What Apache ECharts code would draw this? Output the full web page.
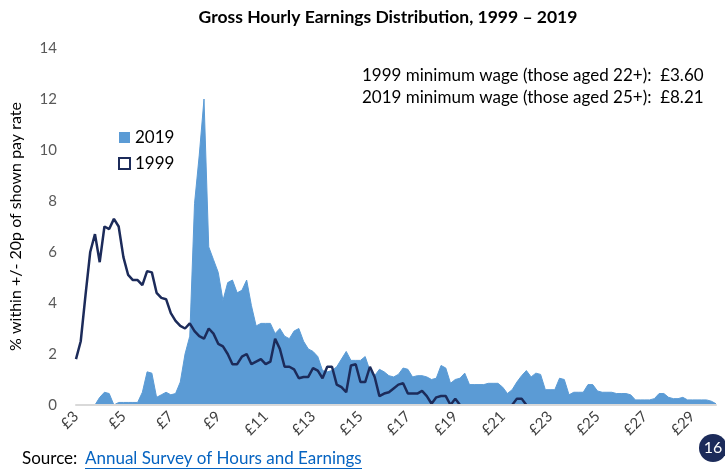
<!DOCTYPE html>
<html>
<head>
<meta charset="utf-8">
<script src="https://cdn.jsdelivr.net/npm/echarts@6/dist/echarts.min.js"></script>
<style>
  html, body { margin: 0; padding: 0; background: #fff; }
  #chart { width: 725px; height: 471px; }
</style>
</head>
<body>
<div id="chart"></div>
<script>
// pay rates, 20p steps
var payRates = [
  '3.0','3.2','3.4','3.6','3.8','4.0','4.2','4.4','4.6','4.8',
  '5.0','5.2','5.4','5.6','5.8','6.0','6.2','6.4','6.6','6.8',
  '7.0','7.2','7.4','7.6','7.8','8.0','8.2','8.4','8.6','8.8',
  '9.0','9.2','9.4','9.6','9.8','10.0','10.2','10.4','10.6','10.8',
  '11.0','11.2','11.4','11.6','11.8','12.0','12.2','12.4','12.6','12.8',
  '13.0','13.2','13.4','13.6','13.8','14.0','14.2','14.4','14.6','14.8',
  '15.0','15.2','15.4','15.6','15.8','16.0','16.2','16.4','16.6','16.8',
  '17.0','17.2','17.4','17.6','17.8','18.0','18.2','18.4','18.6','18.8',
  '19.0','19.2','19.4','19.6','19.8','20.0','20.2','20.4','20.6','20.8',
  '21.0','21.2','21.4','21.6','21.8','22.0','22.2','22.4','22.6','22.8',
  '23.0','23.2','23.4','23.6','23.8','24.0','24.2','24.4','24.6','24.8',
  '25.0','25.2','25.4','25.6','25.8','26.0','26.2','26.4','26.6','26.8',
  '27.0','27.2','27.4','27.6','27.8','28.0','28.2','28.4','28.6','28.8',
  '29.0','29.2','29.4','29.6','29.8','30.0'
];

var share2019 = [
  0, 0, 0, 0, 0, 0.3, 0.5, 0.45, 0, 0.1,
  0.1, 0.1, 0.1, 0.1, 0.5, 1.3, 1.25, 0.3, 0.4, 0.5,
  0.4, 0.45, 0.9, 2.0, 2.7, 7.9, 9.8, 12.0, 6.2, 5.7,
  5.2, 4.1, 4.8, 4.9, 4.4, 4.5, 4.9, 3.9, 3.1, 3.2,
  3.2, 3.2, 2.8, 3.0, 2.7, 2.6, 2.9, 3.0, 2.5, 2.2,
  2.1, 1.9, 1.35, 1.3, 1.35, 1.5, 1.8, 2.1, 1.75, 1.75,
  1.75, 1.9, 1.35, 1.15, 1.4, 1.3, 1.15, 1.1, 1.2, 1.45,
  1.4, 1.1, 1.15, 1.15, 1.1, 1.0, 1.05, 1.55, 1.45, 0.85,
  1.0, 1.05, 1.25, 0.8, 0.8, 0.8, 0.8, 0.85, 0.85, 0.85,
  0.7, 0.45, 0.6, 0.9, 1.15, 1.35, 1.1, 1.25, 1.2, 0.6,
  0.6, 0.6, 1.05, 1.0, 0.4, 0.5, 0.5, 0.5, 0.8, 0.8,
  0.55, 0.5, 0.5, 0.5, 0.45, 0.45, 0.45, 0.4, 0.2, 0.2,
  0.2, 0.2, 0.25, 0.45, 0.45, 0.3, 0.25, 0.25, 0.3, 0.2,
  0.2, 0.2, 0.2, 0.2, 0.15, 0.05
];

var share1999 = [
  1.8, 2.5, 4.3, 6.0, 6.7, 5.6, 7.0, 6.9, 7.3, 7.0,
  5.8, 5.1, 4.9, 4.9, 4.7, 5.25, 5.2, 4.4, 4.2, 4.15,
  3.6, 3.3, 3.1, 3.0, 3.2, 2.9, 2.7, 2.6, 3.0, 2.8,
  2.4, 2.3, 2.0, 1.6, 1.6, 1.9, 2.0, 1.6, 1.7, 1.8,
  1.6, 1.7, 2.6, 2.2, 1.5, 1.5, 1.4, 1.05, 1.1, 1.1,
  1.45, 1.35, 1.05, 1.5, 1.5, 0.8, 0.7, 0.5, 1.55, 1.6,
  0.9, 0.9, 1.5, 1.1, 0.35, 0.45, 0.5, 0.65, 0.8, 0.85,
  0.45, 0.45, 0.45, 0.55, 0.35, 0.05, 0.3, 0.35, 0.35, 0,
  0.25, 0, null, null, null, null, null, null, null, null,
  null, null, 0, 0.25, 0.25, 0, null, null, null, null,
  null, null, null, null, null, null, null, null, null, null,
  null, null, null, null, null, null, null, null, null, null,
  null, null, null, null, null, null, null, null, null, null,
  null, null, null, null, null, null
];

var FONT = 'Lato, "Open Sans", sans-serif';
var BLUE = '#5b9bd5';
var NAVY = '#1c2b5a';

var chart = echarts.init(document.getElementById('chart'), null, { renderer: 'canvas' });

chart.setOption({
  animation: false,
  backgroundColor: '#fff',
  textStyle: { fontFamily: FONT },
  title: {
    text: 'Gross Hourly Earnings Distribution, 1999 – 2019',
    left: 383,
    textAlign: 'center',
    top: 3,
    textStyle: { fontFamily: FONT, fontSize: 17.5, fontWeight: 'bold', color: '#000' }
  },
  legend: {
    orient: 'vertical',
    left: 118,
    top: 129,
    padding: 0,
    itemWidth: 11,
    itemHeight: 11,
    itemGap: 9,
    textStyle: { fontFamily: FONT, fontSize: 17, color: '#000' },
    data: [
      { name: '2019', icon: 'rect', itemStyle: { color: BLUE } },
      { name: '1999', icon: 'rect', itemStyle: { color: '#fff', borderColor: NAVY, borderWidth: 2 } }
    ]
  },
  grid: { left: 72, right: 9, top: 48, bottom: 66, containLabel: false },
  xAxis: {
    type: 'category',
    boundaryGap: false,
    data: payRates,
    z: 5,
    axisLine: { lineStyle: { color: '#d9d9d9', width: 2 } },
    axisTick: { show: false },
    splitLine: { show: false },
    axisLabel: {
      interval: 9,
      rotate: 45,
      margin: 9,
      fontSize: 15,
      color: '#404040',
      fontFamily: FONT,
      formatter: function (v) { return '£' + Math.round(parseFloat(v)); }
    }
  },
  yAxis: {
    type: 'value',
    min: 0,
    max: 14,
    interval: 2,
    name: '% within +/- 20p of shown pay rate',
    nameLocation: 'middle',
    nameGap: 52,
    nameTextStyle: { fontFamily: FONT, fontSize: 16, color: '#000' },
    axisLine: { show: false },
    axisTick: { show: false },
    splitLine: { show: false },
    axisLabel: { fontSize: 15, color: '#595959', margin: 19, fontFamily: FONT }
  },
  graphic: [
    { type: 'text', left: 362, top: 67,
      style: { text: '1999 minimum wage (those aged 22+):  £3.60', font: '17px ' + FONT, fill: '#000' } },
    { type: 'text', left: 362, top: 89,
      style: { text: '2019 minimum wage (those aged 25+):  £8.21', font: '17px ' + FONT, fill: '#000' } },
    { type: 'text', left: 22, top: 450,
      style: { text: 'Source:', font: '17px ' + FONT, fill: '#000' } },
    { type: 'text', left: 85, top: 450,
      style: { text: 'Annual Survey of Hours and Earnings', font: '17px ' + FONT, fill: '#0563c1' } },
    { type: 'line', shape: { x1: 85, y1: 468.5, x2: 362, y2: 468.5 },
      style: { stroke: '#0563c1', lineWidth: 1 } },
    { type: 'circle', shape: { cx: 713, cy: 448, r: 14 }, style: { fill: NAVY } },
    { type: 'text', x: 713, y: 448,
      style: { text: '16', font: '16px ' + FONT, fill: '#fff', align: 'center', verticalAlign: 'middle' } }
  ],
  series: [
    {
      name: '2019',
      type: 'line',
      data: share2019,
      showSymbol: false,
      symbol: 'none',
      lineStyle: { width: 1, color: BLUE },
      itemStyle: { color: BLUE },
      areaStyle: { color: BLUE, opacity: 1 },
      z: 2
    },
    {
      name: '1999',
      type: 'line',
      data: share1999,
      showSymbol: false,
      symbol: 'none',
      connectNulls: false,
      lineStyle: { width: 2.5, color: NAVY },
      itemStyle: { color: NAVY },
      z: 3
    }
  ]
});
</script>
</body>
</html>
